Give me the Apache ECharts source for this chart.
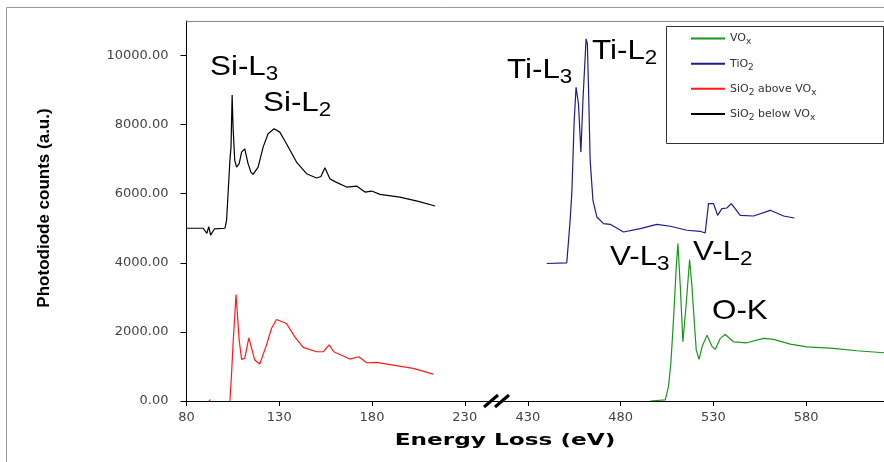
<!DOCTYPE html>
<html>
<head>
<meta charset="utf-8">
<script src="https://cdn.jsdelivr.net/npm/echarts@6/dist/echarts.min.js"></script>
<style>
  html, body { margin: 0; padding: 0; background: #fff; }
  #chart { width: 884px; height: 462px; }
</style>
</head>
<body>
<div id="chart"></div>
<script>
// energy (eV) / counts
const siBelowEnergy = [80, 89, 90, 91, 92, 93, 95, 100.7, 101.6, 102.4, 103.4, 104, 104.6, 105.1, 106, 107, 108.4, 109.7, 111.4, 113.2, 114.7, 115.9, 118.6, 121.3, 124, 127.2, 130.3, 133.9, 139.3, 144.7, 150.1, 152.5, 154.6, 157.3, 160, 166.3, 171.7, 176.2, 179.8, 184.3, 195, 205, 214];
const siBelowCounts = [5000, 5000, 4950, 4850, 5050, 4800, 4980, 5000, 5230, 6000, 6965, 7350, 8860, 7930, 6965, 6770, 6870, 7205, 7300, 6870, 6627, 6560, 6771, 7350, 7736, 7880, 7783, 7448, 6916, 6580, 6454, 6500, 6754, 6436, 6350, 6193, 6222, 6049, 6078, 5982, 5904, 5780, 5644];

// null = no reading (gap in the trace)
const siAboveEnergy = [92, 93, 95, 103.4, 104.3, 105.1, 106.1, 106.7, 107.2, 108.4, 109.7, 111.4, 113.6, 116.8, 119.5, 123.1, 125.8, 128.5, 133.9, 138.4, 142.9, 150.1, 153.7, 156.9, 159.4, 168.1, 172.9, 177.1, 182.5, 191.4, 202.2, 213];
const siAboveCounts = [0, 40, null, 0, 800, 1667, 2534, 3083, 3083, 1763, 1205, 1234, 1830, 1185, 1069, 1618, 2100, 2360, 2245, 1858, 1551, 1425, 1425, 1627, 1425, 1214, 1280, 1107, 1118, 1040, 945, 780];

const tiEnergy = [440.2, 451, 452.8, 453.7, 455, 456, 456.4, 457.3, 458.6, 459.7, 461.4, 462.1, 462.7, 463.6, 465.1, 467.2, 470.8, 474.4, 481.6, 490.6, 499.6, 506.8, 515.8, 522.9, 525.6, 527.4, 530.1, 532.3, 534.6, 537.3, 539.7, 544.5, 551.7, 560.7, 567.9, 573.7];
const tiCounts = [3980, 4000, 5231, 6003, 8121, 9083, 9132, 8604, 7205, 8699, 10482, 10337, 9083, 6965, 5809, 5327, 5136, 5115, 4893, 4991, 5115, 5058, 4942, 4913, 4864, 5713, 5713, 5375, 5568, 5587, 5713, 5375, 5355, 5520, 5355, 5298];

const voxEnergy = [496, 504.1, 505.8, 507.1, 508.2, 508.9, 510, 510.9, 512.2, 513.6, 515.4, 517.2, 518.5, 519.9, 520.8, 522.3, 523.9, 526.6, 529.2, 531, 533.7, 536.4, 540.9, 548.1, 557.1, 562.5, 571.5, 580.5, 594.8, 607.5, 621.8, 625];
const voxCounts = [0, 30, 413, 1090, 2052, 2725, 3881, 4558, 3303, 1714, 2823, 4095, 3303, 2147, 1474, 1205, 1569, 1907, 1590, 1494, 1812, 1927, 1714, 1685, 1812, 1783, 1647, 1569, 1523, 1454, 1396, 1390];

const xTickLabels = [80, 130, 180, 230, 430, 480, 530, 580];
const yTickValues = [0, 2000, 4000, 6000, 8000, 10000];

// broken axis: everything above the gap is shifted left
const BREAK_SHIFT = 166;
const toAxis = e => (e > 300 ? e - BREAK_SHIFT : e);
const fromAxis = v => (v > 250 ? v + BREAK_SHIFT : v);

const pairs = (xs, ys) => xs.map((x, i) => [toAxis(x), ys[i] === null ? '-' : ys[i]]);

const legendNames = {
  'VOx': '{t|VO}{s|x}',
  'TiO2': '{t|TiO}{s|2}',
  'SiO2 above VOx': '{t|SiO}{s|2}{t| above VO}{s|x}',
  'SiO2 below VOx': '{t|SiO}{s|2}{t| below VO}{s|x}'
};

const makeLine = (name, data, color) => ({
  name,
  type: 'line',
  data,
  symbol: 'none',
  showSymbol: false,
  connectNulls: false,
  lineStyle: { color, width: 1.2 },
  itemStyle: { color },
  z: 2
});

const annot = (x, baseline, main, sub) => ({
  type: 'text',
  x,
  y: baseline - 10,
  scaleX: 1.12,
  z: 20,
  style: {
    text: `{m|${main}}{s|${sub}}`,
    align: 'left',
    verticalAlign: 'middle',
    rich: {
      m: { fontSize: 28, fontFamily: 'Liberation Sans', fill: '#000' },
      s: { fontSize: 20, fontFamily: 'Liberation Sans', fill: '#000', padding: [14, 0, 0, 0] }
    }
  }
});

const chart = echarts.init(document.getElementById('chart'));

const option = {
  backgroundColor: '#fff',
  animation: false,
  grid: { left: 186.5, right: 0, top: 21, bottom: 61 },
  xAxis: {
    type: 'value',
    min: 80,
    max: 456,
    splitLine: { show: false },
    axisLine: { lineStyle: { color: '#000', width: 1 } },
    axisTick: {
      length: 5,
      lineStyle: { color: '#000' },
      customValues: xTickLabels.map(toAxis)
    },
    axisLabel: {
      customValues: xTickLabels.map(toAxis),
      formatter: v => String(Math.round(fromAxis(v))),
      color: '#444',
      fontFamily: 'DejaVu Sans',
      fontSize: 13,
      margin: 10
    }
  },
  yAxis: {
    type: 'value',
    min: 0,
    max: 11000,
    splitLine: { show: false },
    axisLine: { show: true, lineStyle: { color: '#000', width: 1 } },
    axisTick: { show: true, length: 6, lineStyle: { color: '#000' }, customValues: yTickValues },
    axisLabel: {
      customValues: yTickValues,
      formatter: v => v.toFixed(2),
      color: '#444',
      fontFamily: 'DejaVu Sans',
      fontSize: 13,
      margin: 18
    }
  },
  legend: {
    orient: 'vertical',
    left: 690,
    top: 33,
    itemWidth: 34,
    itemHeight: 14,
    itemGap: 11.5,
    padding: 0,
    z: 30,
    itemStyle: { opacity: 0 },
    data: ['VOx', 'TiO2', 'SiO2 above VOx', 'SiO2 below VOx'],
    formatter: name => legendNames[name],
    textStyle: {
      color: '#333',
      fontFamily: 'DejaVu Sans',
      fontSize: 11,
      rich: {
        t: { fontSize: 11, fontFamily: 'DejaVu Sans', color: '#333' },
        s: { fontSize: 9, fontFamily: 'DejaVu Sans', color: '#333', padding: [7, 0, 0, 0] }
      }
    }
  },
  graphic: [
    // outer frame
    { type: 'rect', z: 0, shape: { x: 6.5, y: 7.5, width: 900, height: 500 },
      style: { fill: 'none', stroke: '#999', lineWidth: 1 } },
    // top edge of plot box
    { type: 'line', z: 1, shape: { x1: 186.5, y1: 21.5, x2: 884, y2: 21.5 },
      style: { stroke: '#888', lineWidth: 1 } },
    // legend box
    { type: 'rect', z: 25, shape: { x: 666.5, y: 26.5, width: 217, height: 117 },
      style: { fill: '#fff', stroke: '#333', lineWidth: 1 } },
    // axis break marks
    { type: 'line', z: 20, shape: { x1: 484, y1: 407, x2: 498, y2: 395 },
      style: { stroke: '#000', lineWidth: 3 } },
    { type: 'line', z: 20, shape: { x1: 495, y1: 407, x2: 509, y2: 395 },
      style: { stroke: '#000', lineWidth: 3 } },
    // axis names
    { type: 'text', x: 505, y: 441, scaleX: 1.45, z: 20,
      style: { text: 'Energy Loss (eV)', align: 'center', verticalAlign: 'middle',
        font: 'bold 16px "DejaVu Sans"', fill: '#000' } },
    { type: 'text', x: 44, y: 208, rotation: Math.PI / 2, z: 20,
      style: { text: 'Photodiode counts (a.u.)', align: 'center', verticalAlign: 'middle',
        font: 'bold 17px "Liberation Sans"', fill: '#000' } },
    // edge labels
    annot(210, 77, 'Si-L', '3'),
    annot(263, 113, 'Si-L', '2'),
    annot(507, 80, 'Ti-L', '3'),
    annot(592, 61, 'Ti-L', '2'),
    annot(610, 267, 'V-L', '3'),
    annot(693, 262, 'V-L', '2'),
    {
      type: 'text', x: 712, y: 311, scaleX: 1.12, z: 20,
      style: { text: 'O-K', align: 'left', verticalAlign: 'middle',
        font: '28px "Liberation Sans"', fill: '#000' }
    }
  ],
  series: [
    makeLine('VOx', pairs(voxEnergy, voxCounts), '#1a961a'),
    makeLine('TiO2', pairs(tiEnergy, tiCounts), '#1c1c8c'),
    makeLine('SiO2 above VOx', pairs(siAboveEnergy, siAboveCounts), '#ff1a1a'),
    makeLine('SiO2 below VOx', pairs(siBelowEnergy, siBelowCounts), '#000000')
  ]
};

chart.setOption(option);
window.addEventListener('resize', () => chart.resize());
</script>
</body>
</html>
